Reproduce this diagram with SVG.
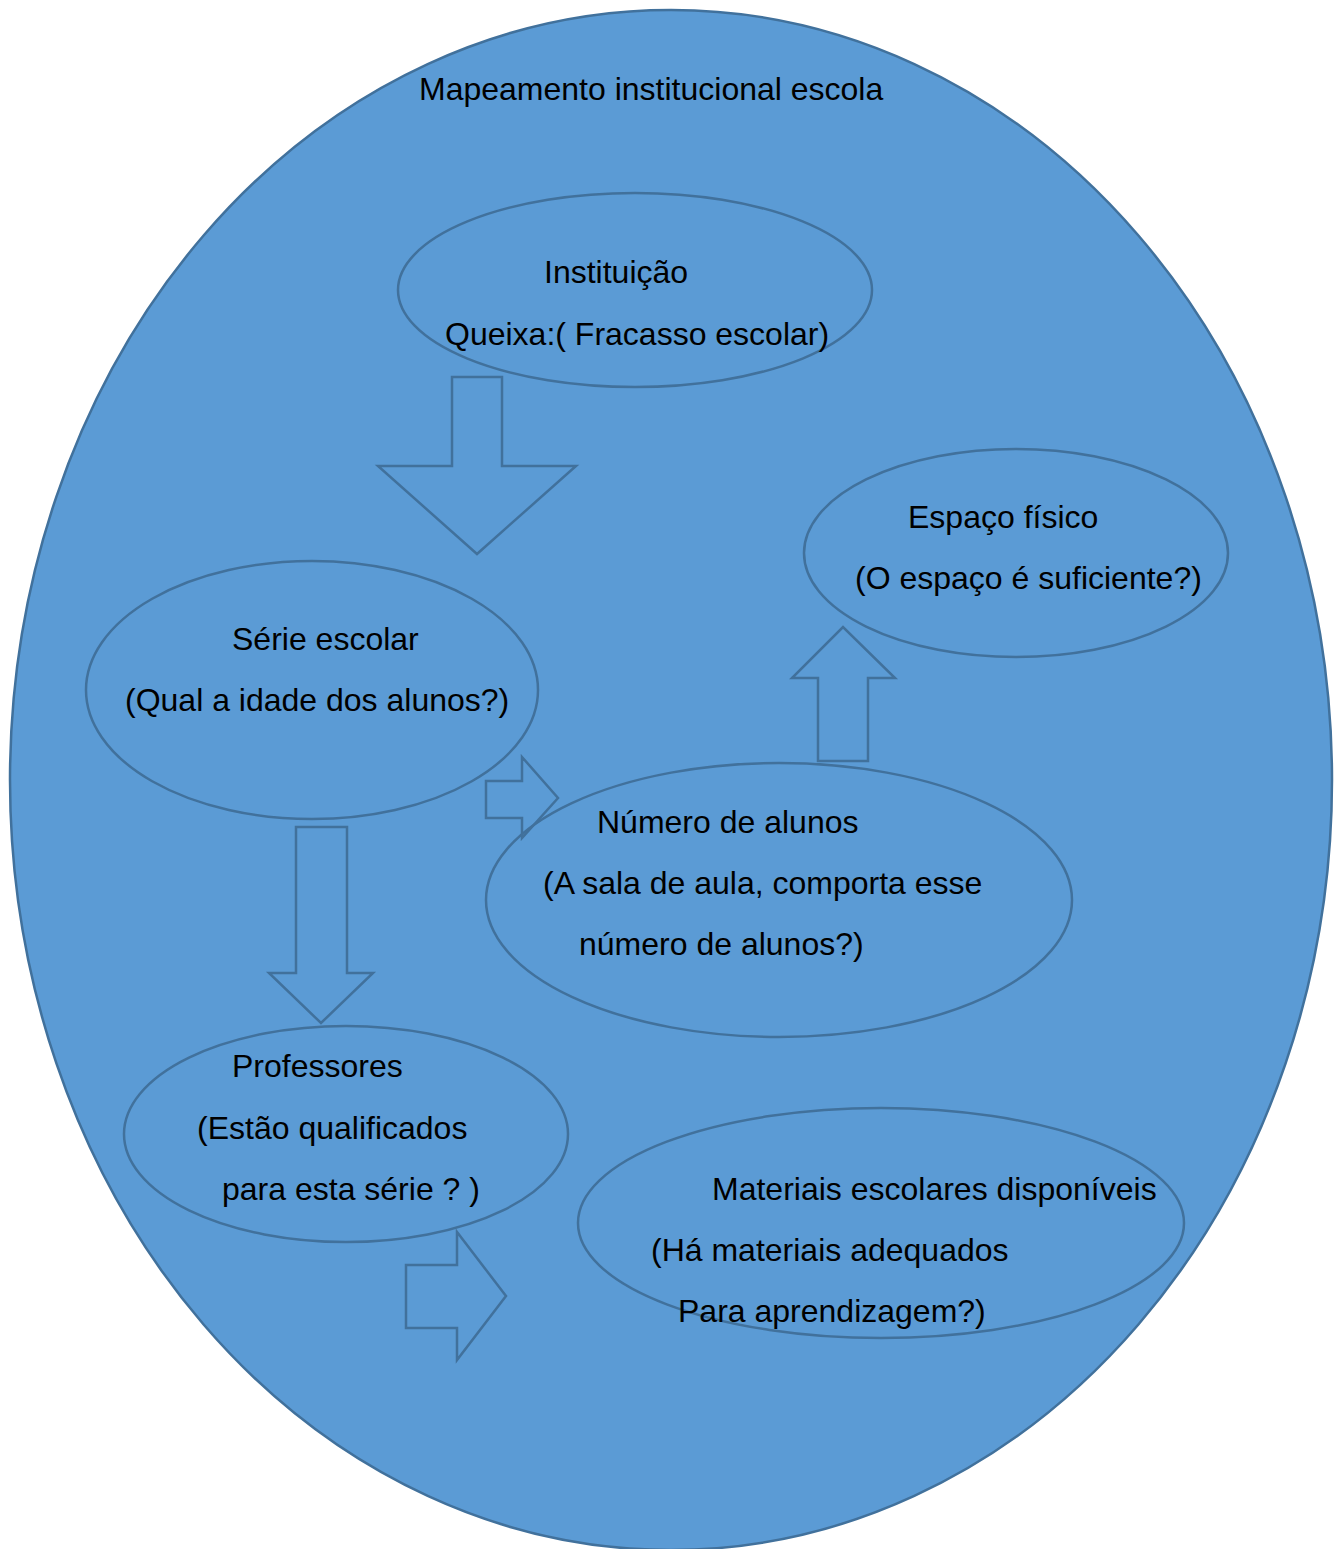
<svg xmlns="http://www.w3.org/2000/svg" width="1335" height="1549" viewBox="0 0 1335 1549">
<style>
.sh{fill:#5B9BD5;stroke:#41719C;stroke-width:2.5}
.ar{fill:none;stroke:#41719C;stroke-width:2.5;stroke-linejoin:miter}
text{font-family:"Liberation Sans",Arial,sans-serif;font-size:32px;fill:#000}
</style>
<rect width="1335" height="1549" fill="#fff"/>
<g id="outer">
<ellipse class="sh" cx="671" cy="780" rx="661" ry="770"/>
<text x="419" y="100">Mapeamento institucional escola</text>
</g>
<g id="instituicao">
<ellipse class="sh" cx="635" cy="290" rx="237" ry="97"/>
<text x="544" y="283">Instituição</text>
<text x="445" y="345">Queixa:( Fracasso escolar)</text>
</g>
<g id="espaco">
<ellipse class="sh" cx="1016" cy="553" rx="212" ry="104"/>
<text x="908" y="528">Espaço físico</text>
<text x="855" y="589">(O espaço é suficiente?)</text>
</g>
<g id="serie">
<ellipse class="sh" cx="312" cy="690" rx="226" ry="129"/>
<text x="232" y="650">Série escolar</text>
<text x="125" y="711">(Qual a idade dos alunos?)</text>
</g>
<g id="numero">
<ellipse class="sh" cx="779" cy="900" rx="293" ry="137"/>
<text x="597" y="833">Número de alunos</text>
<text x="543" y="894">(A sala de aula, comporta esse</text>
<text x="579" y="955">número de alunos?)</text>
</g>
<g id="professores">
<ellipse class="sh" cx="346" cy="1134" rx="222" ry="108"/>
<text x="232" y="1077">Professores</text>
<text x="197" y="1139">(Estão qualificados</text>
<text x="222" y="1200">para esta série ? )</text>
</g>
<g id="materiais">
<ellipse class="sh" cx="881" cy="1223" rx="303" ry="115"/>
<text x="712" y="1200">Materiais escolares disponíveis</text>
<text x="651" y="1261">(Há materiais adequados</text>
<text x="678" y="1322">Para aprendizagem?)</text>
</g>
<g id="connectors">
<polygon class="ar" points="452,377 502,377 502,466 576,466 477,554 378,466 452,466"/>
<polygon class="ar" points="486,781 522,781 522,757 558,798 522,838 522,818 486,818"/>
<polygon class="ar" points="818,761 868,761 868,678 895,678 843,627 792,678 818,678"/>
<polygon class="ar" points="296,827 347,827 347,973 373,973 321,1023 269,973 296,973"/>
<polygon class="ar" points="406,1265 457,1265 457,1232 506,1296 457,1360 457,1328 406,1328"/>
</g>
</svg>
